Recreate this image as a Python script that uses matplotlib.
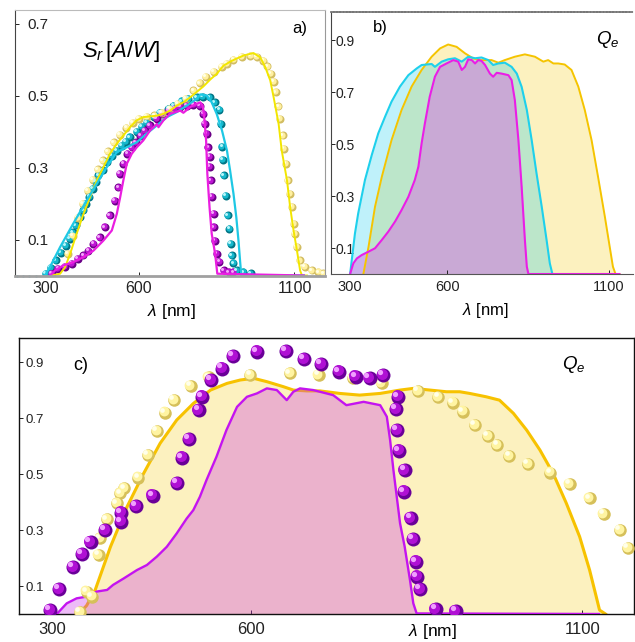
import numpy as np
import matplotlib
matplotlib.use("Agg")
import matplotlib.pyplot as plt
from matplotlib.transforms import offset_copy

plt.rcParams['font.family'] = ['Liberation Sans', 'DejaVu Sans']
plt.rcParams['mathtext.fontset'] = 'custom'
plt.rcParams['mathtext.it'] = 'Liberation Sans:italic'
plt.rcParams['mathtext.rm'] = 'Liberation Sans'

# ---------------- data: panel a (spectral responsivity, A/W) ----------------
a_yellow_line_wl = [320, 347, 363, 379, 400, 422, 443, 465, 486, 507, 529, 550, 572, 593, 614, 636, 658, 679, 700, 722, 743, 765, 786, 807, 830, 850, 872, 900, 936, 968, 990, 1006, 1022, 1033, 1049, 1059, 1076, 1086, 1097, 1108, 1118, 1124, 1140]
a_yellow_line_sr = [0, 0.005, 0.023, 0.06, 0.116, 0.171, 0.218, 0.264, 0.301, 0.338, 0.366, 0.389, 0.412, 0.431, 0.44, 0.442, 0.444, 0.449, 0.458, 0.472, 0.481, 0.495, 0.51, 0.525, 0.545, 0.56, 0.583, 0.597, 0.611, 0.618, 0.606, 0.579, 0.542, 0.495, 0.421, 0.347, 0.264, 0.19, 0.125, 0.069, 0.014, 0, 0]
a_cyan_line_wl = [298, 314, 347, 389, 432, 465, 497, 529, 561, 593, 625, 658, 690, 722, 754, 786, 797, 818, 834, 850, 867, 883, 893, 904, 913, 920, 925, 929, 1130]
a_cyan_line_sr = [0, 0.023, 0.079, 0.144, 0.208, 0.255, 0.301, 0.343, 0.356, 0.37, 0.394, 0.417, 0.44, 0.454, 0.472, 0.491, 0.503, 0.5, 0.481, 0.449, 0.403, 0.347, 0.292, 0.227, 0.162, 0.097, 0.042, 0, 0]
a_magenta_line_wl = [314, 331, 357, 389, 422, 454, 486, 513, 529, 540, 550, 561, 577, 593, 614, 636, 658, 663, 679, 700, 733, 743, 765, 786, 797, 805, 810, 816, 820, 827, 834, 845, 852, 1130]
a_magenta_line_sr = [0, 0.014, 0.028, 0.037, 0.051, 0.069, 0.097, 0.125, 0.171, 0.218, 0.264, 0.31, 0.338, 0.356, 0.375, 0.403, 0.421, 0.412, 0.431, 0.449, 0.458, 0.452, 0.468, 0.477, 0.481, 0.472, 0.44, 0.375, 0.282, 0.19, 0.116, 0.06, 0.005, 0]

a_cyan_dot_wl = [302, 318, 334, 349, 366, 379, 389, 398, 411, 422, 430, 441, 452, 461, 470, 484, 497, 513, 529, 545, 558, 572, 593, 609, 625, 647, 668, 695, 711, 738, 759, 786, 805, 827, 845, 859, 863, 868, 870, 874, 880, 885, 891, 895, 900, 904, 915, 936, 960]
a_cyan_dot_sr = [0.005, 0.022, 0.042, 0.063, 0.083, 0.102, 0.12, 0.139, 0.162, 0.181, 0.199, 0.219, 0.241, 0.26, 0.278, 0.292, 0.315, 0.333, 0.347, 0.361, 0.372, 0.384, 0.398, 0.412, 0.423, 0.44, 0.451, 0.463, 0.472, 0.484, 0.491, 0.495, 0.497, 0.495, 0.481, 0.46, 0.421, 0.358, 0.321, 0.278, 0.222, 0.167, 0.13, 0.088, 0.056, 0.034, 0.014, 0.009, 0.006]
a_magenta_dot_wl = [320, 341, 363, 384, 405, 422, 438, 454, 475, 491, 507, 523, 534, 540, 550, 563, 577, 591, 605, 620, 636, 658, 674, 695, 714, 733, 754, 775, 795, 807, 813, 818, 823, 827, 829, 831, 834, 840, 842, 845, 850, 859, 872, 888, 904]
a_magenta_dot_sr = [0.006, 0.019, 0.023, 0.032, 0.046, 0.056, 0.069, 0.088, 0.106, 0.134, 0.167, 0.208, 0.245, 0.282, 0.31, 0.338, 0.356, 0.37, 0.387, 0.403, 0.417, 0.435, 0.449, 0.458, 0.464, 0.469, 0.472, 0.475, 0.472, 0.449, 0.421, 0.394, 0.356, 0.329, 0.301, 0.264, 0.218, 0.171, 0.134, 0.097, 0.06, 0.037, 0.014, 0.009, 0.009]
a_yellow_dot_wl = [372, 388, 404, 420, 436, 452, 468, 484, 500, 520, 540, 560, 580, 600, 625, 650, 675, 700, 725, 750, 775, 797, 816, 840, 867, 883, 904, 931, 958, 979, 1000, 1013, 1024, 1033, 1041, 1048, 1054, 1063, 1067, 1073, 1078, 1084, 1092, 1097, 1102, 1108, 1118, 1134, 1156, 1177, 1193]
a_yellow_dot_sr = [0.06, 0.11, 0.16, 0.2, 0.235, 0.265, 0.295, 0.32, 0.345, 0.37, 0.39, 0.41, 0.425, 0.435, 0.44, 0.445, 0.452, 0.463, 0.476, 0.49, 0.514, 0.534, 0.551, 0.565, 0.579, 0.588, 0.599, 0.608, 0.611, 0.608, 0.597, 0.581, 0.56, 0.537, 0.509, 0.47, 0.435, 0.389, 0.352, 0.31, 0.264, 0.227, 0.19, 0.144, 0.116, 0.079, 0.042, 0.023, 0.014, 0.009, 0.006]
a_uv_dot_wl = [208, 228, 247, 270]
a_uv_dot_sr = [0, 0, 0, 0]

# ---------------- data: panel b (quantum efficiency) ----------------
b_cyan_wl = [300, 315, 325, 346, 367, 387, 408, 428, 454, 480, 506, 521, 552, 562, 583, 603, 624, 645, 665, 686, 706, 727, 742, 758, 778, 799, 815, 830, 846, 861, 876, 892, 907, 917, 925]
b_cyan_q = [0, 0.156, 0.233, 0.362, 0.458, 0.541, 0.605, 0.663, 0.721, 0.765, 0.791, 0.804, 0.808, 0.797, 0.817, 0.826, 0.83, 0.817, 0.836, 0.83, 0.833, 0.823, 0.804, 0.81, 0.813, 0.797, 0.771, 0.72, 0.631, 0.515, 0.387, 0.259, 0.131, 0.041, 0]
b_yellow_wl = [341, 357, 377, 398, 428, 459, 490, 521, 552, 578, 603, 629, 655, 681, 706, 737, 758, 778, 809, 840, 871, 897, 912, 928, 943, 963, 984, 1005, 1025, 1046, 1066, 1087, 1102, 1112, 1120, 1132]
b_yellow_q = [0, 0.105, 0.259, 0.374, 0.515, 0.631, 0.721, 0.785, 0.836, 0.868, 0.883, 0.874, 0.849, 0.829, 0.823, 0.823, 0.813, 0.823, 0.836, 0.845, 0.836, 0.817, 0.823, 0.81, 0.81, 0.806, 0.785, 0.721, 0.631, 0.515, 0.374, 0.221, 0.105, 0.028, 0, 0]
b_magenta_wl = [300, 310, 321, 336, 357, 377, 398, 418, 439, 459, 480, 500, 511, 521, 531, 546, 562, 578, 598, 619, 634, 645, 655, 665, 676, 686, 696, 706, 717, 732, 742, 753, 768, 789, 799, 809, 820, 830, 840, 846, 851, 1132]
b_magenta_q = [0, 0.041, 0.06, 0.073, 0.086, 0.099, 0.131, 0.163, 0.202, 0.246, 0.297, 0.362, 0.413, 0.503, 0.579, 0.682, 0.759, 0.797, 0.81, 0.823, 0.817, 0.785, 0.797, 0.826, 0.823, 0.81, 0.823, 0.82, 0.804, 0.771, 0.759, 0.774, 0.771, 0.765, 0.746, 0.669, 0.515, 0.336, 0.131, 0.028, 0, 0]

# ---------------- data: panel c (quantum efficiency, measured + model) ----------------
c_yellow_wl = [340, 352, 365, 388, 413, 438, 463, 488, 513, 539, 564, 584, 604, 624, 649, 664, 684, 704, 734, 764, 795, 825, 845, 870, 895, 915, 930, 955, 975, 996, 1016, 1036, 1056, 1076, 1096, 1111, 1121, 1126, 1135]
c_yellow_q = [0, 0.03, 0.086, 0.24, 0.383, 0.502, 0.61, 0.693, 0.752, 0.8, 0.824, 0.836, 0.842, 0.83, 0.812, 0.8, 0.797, 0.797, 0.788, 0.782, 0.788, 0.8, 0.806, 0.8, 0.794, 0.794, 0.788, 0.776, 0.764, 0.717, 0.657, 0.586, 0.502, 0.395, 0.276, 0.157, 0.062, 0.014, 0]
c_magenta_wl = [307, 322, 337, 352, 367, 383, 392, 408, 428, 443, 458, 473, 488, 503, 513, 523, 533, 548, 563, 579, 594, 609, 624, 639, 654, 664, 674, 694, 704, 724, 744, 757, 770, 795, 805, 810, 815, 820, 825, 832, 840, 845, 850, 1125]
c_magenta_q = [0, 0.038, 0.056, 0.062, 0.08, 0.086, 0.104, 0.127, 0.157, 0.175, 0.205, 0.24, 0.288, 0.341, 0.371, 0.419, 0.479, 0.562, 0.657, 0.74, 0.776, 0.788, 0.806, 0.8, 0.764, 0.794, 0.806, 0.8, 0.794, 0.782, 0.746, 0.752, 0.758, 0.746, 0.705, 0.621, 0.514, 0.419, 0.324, 0.24, 0.121, 0.038, 0.002, 0]
c_magenta_dot_wl = [297, 311, 332, 345, 358, 380, 404, 404, 427, 452, 489, 496, 507, 521, 526, 540, 557, 573, 609, 653, 680, 706, 733, 758, 779, 800, 822, 819, 821, 824, 832, 831, 841, 845, 849, 851, 855, 879, 909]
c_magenta_dot_q = [0.014, 0.088, 0.167, 0.213, 0.257, 0.3, 0.33, 0.362, 0.386, 0.423, 0.467, 0.558, 0.624, 0.729, 0.776, 0.836, 0.877, 0.921, 0.937, 0.939, 0.91, 0.893, 0.866, 0.848, 0.842, 0.854, 0.776, 0.731, 0.657, 0.583, 0.514, 0.437, 0.342, 0.267, 0.187, 0.133, 0.088, 0.017, 0.011]
c_yellow_dot_wl = [342, 352, 360, 370, 372, 383, 398, 403, 409, 430, 445, 458, 470, 484, 509, 536, 599, 659, 702, 754, 797, 852, 883, 905, 920, 938, 958, 972, 990, 1018, 1052, 1081, 1111, 1132, 1157, 1169]
c_yellow_dot_q = [0.008, 0.08, 0.062, 0.211, 0.27, 0.338, 0.395, 0.431, 0.449, 0.487, 0.568, 0.654, 0.719, 0.764, 0.814, 0.845, 0.854, 0.86, 0.854, 0.842, 0.824, 0.796, 0.776, 0.755, 0.723, 0.675, 0.636, 0.604, 0.564, 0.536, 0.505, 0.464, 0.413, 0.357, 0.3, 0.235]

x_ticks = [300, 600, 1100]
a_y_ticks = [0.1, 0.3, 0.5, 0.7]
bc_y_ticks = [0.1, 0.3, 0.5, 0.7, 0.9]

W, H = 635, 642
fig = plt.figure(figsize=(W / 100, H / 100), dpi=100)


def rect(l, t, r, b):
    return [l / W, 1 - b / H, (r - l) / W, (b - t) / H]


def spheres(ax, x, y, d_px, base, mid, light, z=4):
    s = (d_px * 0.72) ** 2
    ax.scatter(x, y, s=s, color=base, linewidths=0, zorder=z)
    t1 = offset_copy(ax.transData, fig=fig, x=-0.1 * d_px, y=0.1 * d_px, units='dots')
    ax.scatter(x, y, s=s * 0.62, color=mid, linewidths=0, zorder=z + 0.1, transform=t1)
    t2 = offset_copy(ax.transData, fig=fig, x=-0.22 * d_px, y=0.22 * d_px, units='dots')
    ax.scatter(x, y, s=s * 0.14, color=light, linewidths=0, zorder=z + 0.2, transform=t2)


def style_axes(ax, yticks, yfs, ypad_px, xfs, xpad_px):
    ax.set_xticks(x_ticks)
    ax.set_xticklabels([str(t) for t in x_ticks])
    ax.set_yticks(yticks)
    ax.set_yticklabels([f'{t:.1f}' for t in yticks])
    ax.tick_params(axis='x', direction='in', length=3, width=0.7, labelsize=xfs,
                   pad=xpad_px * 0.72, colors='#222222')
    ax.tick_params(axis='y', direction='in', length=3, width=0.7, labelsize=yfs,
                   pad=-ypad_px * 0.72, colors='#222222')
    plt.setp(ax.get_yticklabels(), ha='left')


# ---------------- panel a ----------------
axa = fig.add_axes(rect(15, 10, 325, 275.5))
axa.set_xlim(202, 1198)
axa.set_ylim(0, 0.7375)
spheres(axa, a_cyan_dot_wl, a_cyan_dot_sr, 8, '#007585', '#16b8cc', '#b8f6fa', z=2)
spheres(axa, a_magenta_dot_wl, a_magenta_dot_sr, 8, '#6a0086', '#bf16d4', '#f4a8fa', z=2)
spheres(axa, a_yellow_dot_wl, a_yellow_dot_sr, 8, '#d2bd62', '#fff0a0', '#ffffe6', z=2)
axa.scatter(a_uv_dot_wl, a_uv_dot_sr, s=3, color='#3cc0d8', linewidths=0, zorder=2, clip_on=False)
axa.plot(a_yellow_line_wl, a_yellow_line_sr, color='#f2e600', lw=1.4, zorder=3)
axa.plot(a_cyan_line_wl, a_cyan_line_sr, color='#1ec8e4', lw=1.6, zorder=3)
axa.plot(a_magenta_line_wl, a_magenta_line_sr, color='#ea1ee0', lw=1.6, zorder=3)
style_axes(axa, a_y_ticks, 11, 12, 11.5, 5)
axa.spines['left'].set_color('#444444')
axa.spines['left'].set_linewidth(0.8)
axa.spines['top'].set_color('#bbbbbb')
axa.spines['top'].set_linewidth(0.8)
axa.spines['right'].set_color('#999999')
axa.spines['right'].set_linewidth(0.8)
axa.spines['bottom'].set_color('#a0a0a0')
axa.spines['bottom'].set_linewidth(2.0)
axa.spines['bottom'].set_zorder(5)
axa.text(0.92, 0.93, 'a)', transform=axa.transAxes, fontsize=12, ha='center', va='center')
axa.text(0.215, 0.845, r'$S_r\,[A/W]$', transform=axa.transAxes, fontsize=16, ha='left', va='center')
axa.set_xlabel(r'$\lambda$ [nm]', fontsize=12.5)
axa.xaxis.set_label_coords(0.503, -0.137)
axa.xaxis.label.set_va('center')

# ---------------- panel b ----------------
axb = fig.add_axes(rect(331, 12, 633, 274))
axb.set_xlim(241, 1174)
axb.set_ylim(0, 1.008)
axb.fill_between(b_yellow_wl, b_yellow_q, color='#f5c800', alpha=0.25, lw=0, zorder=1)
axb.fill_between(b_cyan_wl, b_cyan_q, color='#00c8ec', alpha=0.25, lw=0, zorder=1.1)
axb.fill_between(b_magenta_wl, b_magenta_q, color='#d66ee0', alpha=0.5, lw=0, zorder=1.2)
axb.plot(b_yellow_wl, b_yellow_q, color='#f5c400', lw=1.4, zorder=2)
axb.plot(b_cyan_wl, b_cyan_q, color='#1ed0ec', lw=1.5, zorder=2.1)
axb.plot(b_magenta_wl, b_magenta_q, color='#ea1ee6', lw=1.5, zorder=2.2)
style_axes(axb, bc_y_ticks, 10, 5, 10.5, 6)
axb.spines['left'].set_color('#444444')
axb.spines['left'].set_linewidth(0.8)
axb.spines['bottom'].set_color('#555555')
axb.spines['bottom'].set_linewidth(0.8)
axb.spines['top'].set_color('#777777')
axb.spines['top'].set_linewidth(1.3)
axb.spines['top'].set_linestyle((0, (1.2, 0.6)))
axb.spines['right'].set_visible(False)
axb.text(0.162, 0.94, 'b)', transform=axb.transAxes, fontsize=12, ha='center', va='center')
axb.text(0.915, 0.895, r'$Q_e$', transform=axb.transAxes, fontsize=13.5, ha='center', va='center')
axb.set_xlabel(r'$\lambda$ [nm]', fontsize=12)
axb.xaxis.set_label_coords(0.51, -0.141)
axb.xaxis.label.set_va('center')

# ---------------- panel c ----------------
axc = fig.add_axes(rect(19, 338, 634, 614))
axc.set_xlim(250, 1178)
axc.set_ylim(0, 0.986)
axc.fill_between(c_yellow_wl, c_yellow_q, color='#f5c800', alpha=0.25, lw=0, zorder=1)
axc.plot(c_yellow_wl, c_yellow_q, color='#f7c200', lw=2.2, zorder=2)
axc.fill_between(c_magenta_wl, c_magenta_q, color='#cb32e9', alpha=0.33, lw=0, zorder=2.5)
axc.plot(c_magenta_wl, c_magenta_q, color='#c414f0', lw=1.7, zorder=3)
spheres(axc, c_yellow_dot_wl, c_yellow_dot_q, 12.5, '#d6c05a', '#fff4a2', '#ffffea', z=4)
spheres(axc, c_magenta_dot_wl, c_magenta_dot_q, 14, '#6a0098', '#b010d4', '#f0a0ff', z=5)
style_axes(axc, bc_y_ticks, 9.5, 6, 12, 8)
for sp in axc.spines.values():
    sp.set_color('#111111')
    sp.set_linewidth(1.0)
axc.text(0.101, 0.9, 'c)', transform=axc.transAxes, fontsize=13, ha='center', va='center')
axc.text(0.902, 0.905, r'$Q_e$', transform=axc.transAxes, fontsize=13.5, ha='center', va='center')
axc.set_xlabel(r'$\lambda$ [nm]', fontsize=12.5)
axc.xaxis.set_label_coords(0.6715, -0.065)
axc.xaxis.label.set_va('center')

fig.savefig('out.png', dpi=100)
